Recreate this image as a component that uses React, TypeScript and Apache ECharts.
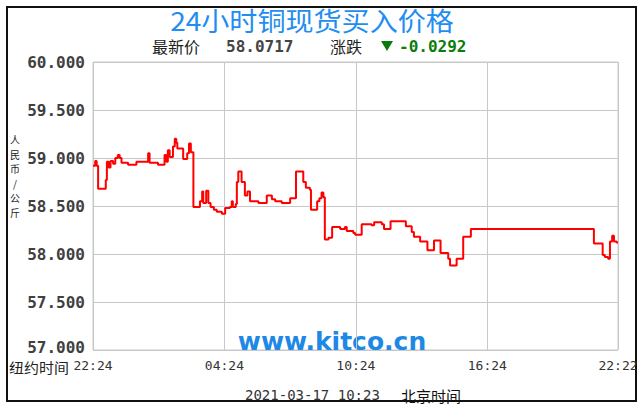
import React, { useEffect, useRef } from "react";
import * as echarts from "echarts";

const TITLE = "24小时铜现货买入价格";
const LATEST_LABEL = "最新价";
const LATEST_PRICE = "58.0717";
const CHANGE_LABEL = "涨跌";
const CHANGE_VALUE = "-0.0292";
const Y_NAME = "人民币/公斤";
const NY_LABEL = "纽约时间";
const BJ_TIME = "2021-03-17 10:23";
const BJ_LABEL = "北京时间";
const WATERMARK = "www.kitco.cn";

const xTickLabels = ["22:24", "04:24", "10:24", "16:24", "22:22"];
const xTickMinutes = [0, 360, 720, 1080, 1438];
const Y_MIN = 57;
const Y_MAX = 60;
const Y_STEP = 0.5;

// minutes since 22:24 (New York time)
const minutes = [
  0, 6, 10, 14, 35, 38, 43, 48, 55, 61, 68, 73, 78, 96, 119, 151, 155, 178, 196, 201,
  205, 210, 219, 224, 228, 231, 247, 258, 263, 268, 275, 293, 299, 302, 310, 316, 322, 331, 339, 353,
  362, 375, 380, 383, 391, 394, 398, 407, 416, 423, 430, 453, 476, 490, 499, 517, 540, 556, 576, 583,
  594, 597, 614, 620, 626, 631, 635, 645, 655, 677, 690, 695, 713, 718, 736, 763, 770, 791, 797, 815,
  857, 873, 879, 896, 916, 934, 952, 973, 978, 996, 1014, 1035, 1372, 1396, 1402, 1411, 1416, 1422, 1427, 1434,
  1438,
];
const prices = [
  58.92, 58.97, 58.92, 58.68, 58.77, 58.96, 58.9, 58.97, 58.94, 59.0, 59.03, 59.0, 58.95, 58.93, 58.96, 59.05, 58.95, 58.93, 59.03, 58.96,
  59.08, 59.01, 59.12, 59.2, 59.16, 59.1, 58.99, 59.05, 59.15, 59.06, 58.49, 58.55, 58.65, 58.53, 58.66, 58.53, 58.49, 58.46, 58.44, 58.42,
  58.48, 58.49, 58.55, 58.49, 58.52, 58.75, 58.86, 58.75, 58.61, 58.65, 58.55, 58.53, 58.61, 58.57, 58.55, 58.53, 58.58, 58.86, 58.75, 58.69,
  58.67, 58.46, 58.55, 58.58, 58.64, 58.59, 58.15, 58.17, 58.28, 58.26, 58.28, 58.24, 58.22, 58.2, 58.31, 58.3, 58.33, 58.31, 58.26, 58.34,
  58.29, 58.23, 58.18, 58.13, 58.04, 58.14, 58.01, 57.95, 57.88, 57.95, 58.18, 58.26, 58.11, 57.99, 57.97, 57.95, 58.13, 58.19, 58.13, 58.12,
  58.12,
];

const CJK = '"Noto Sans CJK SC"';
const MONO = '"DejaVu Sans Mono"';

function txt(text: string, x: number, y: number, font: string, fill: string, align = "left", extra: any = {}) {
  return {
    type: "text",
    x,
    y,
    ...extra,
    style: {
      text,
      font,
      fill,
      textAlign: align,
      textVerticalAlign: "middle",
      align,
      verticalAlign: "middle",
      ...(extra.style || {}),
    },
  };
}

export default function App() {
  const ref = useRef<HTMLDivElement>(null);
  useEffect(() => {
    if (!ref.current) return;
    const chart = echarts.init(ref.current, null, { renderer: "svg" });
    const yNameChars = Y_NAME.split("");
    const yLabelStyle = {
      fontFamily: MONO,
      fontWeight: "bold",
      fontSize: 16,
      color: "#404040",
    };
    const option: any = {
      animation: false,
      backgroundColor: "#ffffff",
      grid: {
        left: 93,
        right: 26,
        top: 62,
        bottom: 65,
        show: true,
        borderColor: "#c8c8c8",
        borderWidth: 1,
        backgroundColor: "transparent",
      },
      xAxis: {
        type: "value",
        min: 0,
        max: 1438,
        interval: 360,
        axisLine: { show: false },
        axisTick: { show: false },
        splitLine: { show: true, lineStyle: { color: "#c8c8c8", width: 1 } },
        axisLabel: {
          margin: 9,
          fontFamily: MONO,
          fontSize: 13,
          color: "#333333",
          showMinLabel: true,
          showMaxLabel: true,
          formatter: (v: number) => {
            const i = xTickMinutes.indexOf(Math.round(v));
            return i >= 0 ? xTickLabels[i] : "";
          },
        },
      },
      yAxis: {
        type: "value",
        min: Y_MIN,
        max: Y_MAX,
        interval: Y_STEP,
        axisLine: { show: false },
        axisTick: { show: false },
        splitLine: { show: true, lineStyle: { color: "#c8c8c8", width: 1 } },
        axisLabel: {
          margin: 8,
          ...yLabelStyle,
          formatter: (v: number) =>
            v === Y_MIN ? `{low|${v.toFixed(3)}}` : v.toFixed(3),
          rich: {
            low: { ...yLabelStyle, padding: [0, 0, 6, 0] },
          },
        },
      },
      series: [
        {
          type: "line",
          step: "end",
          data: minutes.map((m, i) => [m, prices[i]]),
          showSymbol: false,
          symbol: "none",
          lineStyle: { color: "#ff0000", width: 2 },
          z: 3,
        },
      ],
      graphic: [
        {
          type: "rect",
          shape: { x: 7, y: 7, width: 629, height: 394 },
          style: { fill: "none", stroke: "#111111", lineWidth: 2 },
        },
        txt(TITLE, 312, 20, `26px ${CJK}`, "#1f8ef1", "center", { scaleX: 1.08 }),
        txt(LATEST_LABEL, 152, 46, `16px ${CJK}`, "#222222"),
        txt(LATEST_PRICE, 226, 46, `bold 16px ${MONO}`, "#444444"),
        txt(CHANGE_LABEL, 330, 46, `16px ${CJK}`, "#222222"),
        {
          type: "polygon",
          shape: { points: [[381, 41], [393, 41], [387, 51]] },
          style: { fill: "#0a7a0a" },
        },
        txt(CHANGE_VALUE, 399, 46, `bold 16px ${MONO}`, "#0b7d0b"),
        ...yNameChars.map((c, i) =>
          txt(c, 15, 176 + (i - (yNameChars.length - 1) / 2) * 14.6, `10px ${CJK}`, "#222222", "center")
        ),
        txt(NY_LABEL, 9, 367, `14px ${CJK}`, "#222222", "left", { scaleX: 1.07 }),
        txt(BJ_TIME, 245, 395, `14px ${MONO}`, "#333333"),
        txt(BJ_LABEL, 401, 395, `15px ${CJK}`, "#111111"),
        txt(WATERMARK, 332, 341, `bold 25px "DejaVu Sans"`, "#1e88e5", "center"),
      ],
    };
    chart.setOption(option);
    return () => chart.dispose();
  }, []);
  return (
    <div
      ref={ref}
      style={{ position: "fixed", left: 0, top: 0, width: 644, height: 415 }}
    />
  );
}
